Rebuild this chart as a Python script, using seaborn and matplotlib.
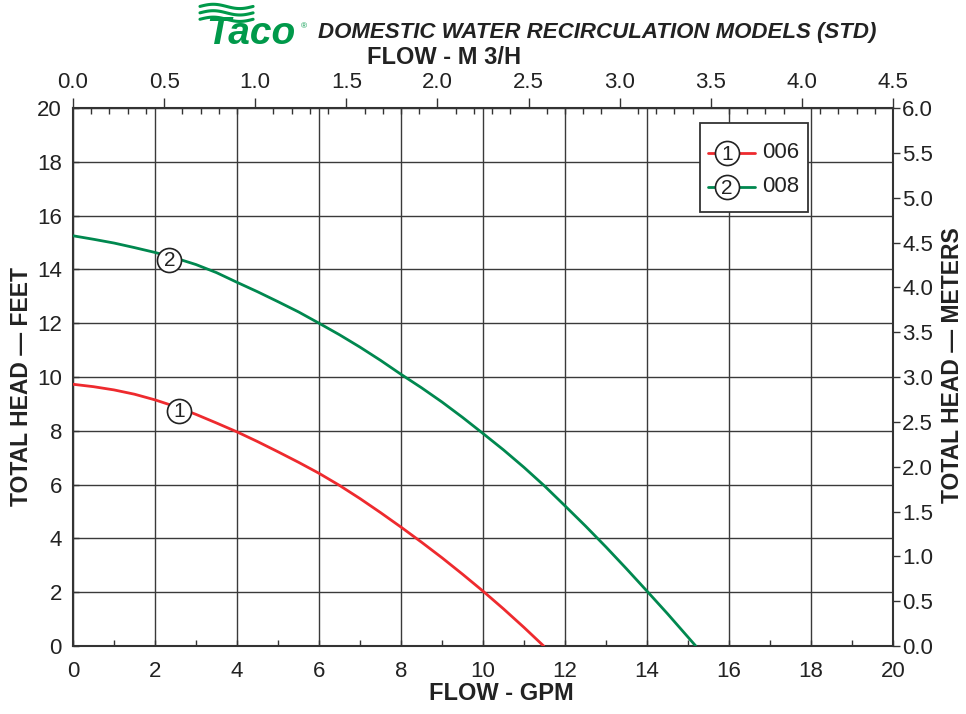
import numpy as np
import pandas as pd
import matplotlib
matplotlib.use("Agg")
import matplotlib.pyplot as plt
from matplotlib.lines import Line2D
from matplotlib.patches import Rectangle
import seaborn as sns

# ---- data ----
gpm_006 = [0, 0.5, 1, 1.5, 2, 2.5, 3, 3.5, 4, 4.5, 5, 5.5, 6, 6.5, 7, 7.5, 8, 8.5, 9, 9.5,
           10, 10.5, 11, 11.48]
head_006 = [9.73, 9.64, 9.52, 9.36, 9.15, 8.9, 8.61, 8.29, 7.96, 7.6, 7.22, 6.83, 6.42, 5.97,
            5.48, 4.96, 4.42, 3.86, 3.28, 2.67, 2.04, 1.38, 0.69, 0.0]
gpm_008 = [0, 0.5, 1, 1.5, 2, 2.5, 3, 3.5, 4, 4.5, 5, 5.5, 6, 6.5, 7, 7.5, 8, 8.5, 9, 9.5,
           10, 10.5, 11, 11.5, 12, 12.5, 13, 13.5, 14, 14.5, 15, 15.19]
head_008 = [15.25, 15.12, 14.98, 14.81, 14.63, 14.42, 14.18, 13.88, 13.52, 13.17, 12.8, 12.42,
            12.0, 11.57, 11.11, 10.62, 10.1, 9.6, 9.07, 8.5, 7.9, 7.29, 6.64, 5.95, 5.21,
            4.46, 3.68, 2.87, 2.04, 1.2, 0.33, 0.0]
models = ["006", "008"]
model_nums = ["1", "2"]
label_pos_gpm = [2.59, 2.35]
label_pos_head = [8.74, 14.35]
x_ticks_gpm = list(range(0, 21, 2))
y_ticks_ft = list(range(0, 21, 2))
x_ticks_m3h = [0.0, 0.5, 1.0, 1.5, 2.0, 2.5, 3.0, 3.5, 4.0, 4.5]
y_ticks_m = [0.0, 0.5, 1.0, 1.5, 2.0, 2.5, 3.0, 3.5, 4.0, 4.5, 5.0, 5.5, 6.0]

RED = "#ee2a2e"
GREEN = "#00884f"
colors = {"006": RED, "008": GREEN}

df = pd.concat([
    pd.DataFrame({"gpm": gpm_006, "head": head_006, "model": "006"}),
    pd.DataFrame({"gpm": gpm_008, "head": head_008, "model": "008"}),
])

sns.set_theme(style="white")
plt.rcParams["font.family"] = ["Liberation Sans", "DejaVu Sans"]
FONT = ["Liberation Sans", "DejaVu Sans"]
TXT = "#222222"

fig = plt.figure(figsize=(9.66, 7.14), dpi=100)
ax = fig.add_axes([73/966, 68/714, 820/966, 538/714])

GRIDC = "#3a3a3a"
ax.set_xlim(0, 20)
ax.set_ylim(0, 20)
ax.set_xticks(x_ticks_gpm)
ax.set_yticks(y_ticks_ft)
ax.set_xticks(range(1, 20, 2), minor=True)
ax.grid(True, which="major", color=GRIDC, lw=1.0)
ax.set_axisbelow(True)

sns.lineplot(data=df, x="gpm", y="head", hue="model", palette=colors,
             sort=False, lw=2.0, legend=False, ax=ax, zorder=3)

# numbered circle labels on curves
for i, m in enumerate(models):
    ax.scatter([label_pos_gpm[i]], [label_pos_head[i]], s=300, facecolor="white",
               edgecolor=TXT, lw=1.2, zorder=5)
    ax.text(label_pos_gpm[i], label_pos_head[i] - 0.03, model_nums[i], ha="center", va="center",
            fontsize=15, color=TXT, zorder=6, family=FONT)

for s in ax.spines.values():
    s.set_color("#333333")
    s.set_linewidth(1.5)

ax.tick_params(axis="x", which="major", direction="in", length=4, width=1,
               color="#333333", labelsize=16, labelcolor=TXT, pad=11)
ax.tick_params(axis="y", which="major", direction="in", length=4, width=1,
               color="#333333", labelsize=16, labelcolor=TXT, pad=8)
ax.tick_params(axis="x", which="minor", direction="in", length=4, width=1, color="#333333")
ax.set_xlabel("FLOW - GPM", fontsize=17, fontweight="bold", color=TXT, family=FONT)
ax.xaxis.set_label_coords(0.523, -0.0874)
ax.xaxis.label.set_va("center")
ax.set_ylabel("TOTAL HEAD \u2014 FEET", fontsize=16.5, fontweight="bold", color=TXT,
              family=FONT)
ax.yaxis.set_label_coords(-0.0622, 0.483)
ax.yaxis.label.set_va("center")
ax.yaxis.label.set_ha("center")

# right axis in meters
ax2 = ax.twinx()
ax2.set_ylim(0, 6)
ax2.set_yticks(y_ticks_m)
ax2.set_yticklabels([f"{v:.1f}" for v in y_ticks_m])
ax2.tick_params(axis="y", direction="out", length=5, width=1, color="#333333",
                labelsize=16, labelcolor=TXT, pad=1.5)
ax2.set_ylabel("TOTAL HEAD \u2014 METERS", fontsize=16.5, fontweight="bold", color=TXT,
               family=FONT)
ax2.yaxis.set_label_coords(1.072, 0.522)
ax2.yaxis.label.set_va("center")
ax2.yaxis.label.set_ha("center")
ax2.grid(False)
for s in ax2.spines.values():
    s.set_visible(False)

# top axis in m3/h
ax3 = ax.twiny()
ax3.set_xlim(0, 4.5)
ax3.set_xticks(x_ticks_m3h)
ax3.set_xticklabels([f"{v:.1f}" for v in x_ticks_m3h])
ax3.set_xticks(np.arange(0.1, 4.5, 0.1), minor=True)
ax3.tick_params(axis="x", which="major", direction="out", length=7, width=1, color="#333333",
                labelsize=16, labelcolor=TXT, pad=4)
ax3.tick_params(axis="x", which="minor", direction="in", length=4, width=1, color="#333333")
ax3.set_xlabel("FLOW - M 3/H", fontsize=17, fontweight="bold", color=TXT, family=FONT)
ax3.xaxis.set_label_coords(0.452, 1.093)
ax3.xaxis.label.set_va("center")
ax3.grid(False)
for s in ax3.spines.values():
    s.set_visible(False)

# legend box (axes fraction coords)
box = Rectangle((0.7646, 0.8067), 0.1316, 0.1655, transform=ax.transAxes,
                facecolor="white", edgecolor="#333333", lw=1.3, zorder=7)
ax.add_patch(box)
leg_y = [0.9164, 0.8532]
for i, m in enumerate(models):
    ax.add_line(Line2D([0.774, 0.832], [leg_y[i], leg_y[i]], transform=ax.transAxes,
                       color=colors[m], lw=2.0, zorder=8))
    ax.scatter([0.7976], [leg_y[i]], s=300, facecolor="white", edgecolor=TXT,
               lw=1.2, transform=ax.transAxes, zorder=9)
    ax.text(0.7976, leg_y[i] - 0.002, model_nums[i], transform=ax.transAxes, ha="center",
            va="center", fontsize=15, color=TXT, zorder=10)
    ax.text(0.840, leg_y[i], m, transform=ax.transAxes, ha="left", va="center",
            fontsize=16, color=TXT, zorder=10)

# title with logo
fig.text(0.3295, 0.955, "DOMESTIC WATER RECIRCULATION MODELS (STD)", fontsize=16,
         fontweight="bold", fontstyle="italic", color=TXT, family=FONT,
         ha="left", va="center")
fig.text(0.213, 0.952, "Taco", fontsize=28, fontweight="bold", fontstyle="italic",
         color="#00994a", family=FONT, ha="left", va="center")
fig.text(0.311, 0.962, "\u00ae", fontsize=6, color="#00994a", ha="left", va="center")
xs = np.linspace(0.207, 0.262, 60)
for k, yb in enumerate([0.991, 0.982, 0.973]):
    fig.add_artist(Line2D(xs, yb + 0.003 * np.sin((xs - 0.207) / 0.055 * 2 * np.pi),
                          color="#00994a", lw=2.2, transform=fig.transFigure))

fig.savefig("out.png", dpi=100)
